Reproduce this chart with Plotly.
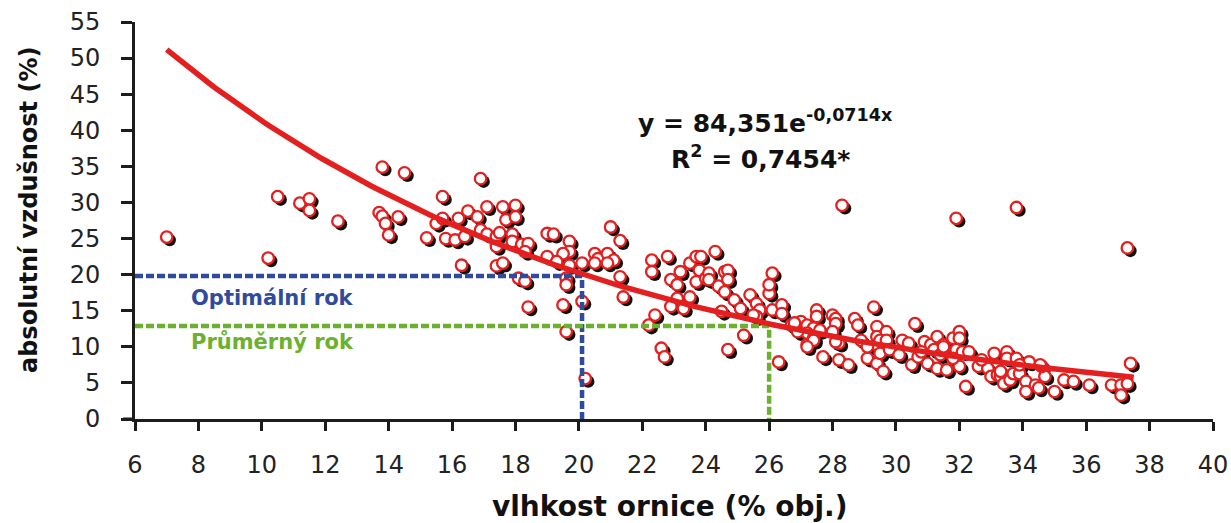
import numpy as np
import plotly.graph_objects as go

# --- data ---
moisture = [
    7.0, 10.2, 10.5, 11.2, 11.5, 11.5, 12.4, 13.8, 14.5, 13.7, 13.8, 13.9, 14.0, 14.3,
    15.2, 15.7, 15.5, 15.7, 15.8, 16.1, 16.2, 16.4, 16.3, 16.5, 16.8, 16.9, 16.9, 17.1,
    17.1, 17.4, 17.4, 17.4, 17.6, 17.6, 18.0, 17.7, 18.0, 17.5, 17.9, 17.9, 18.2, 18.4,
    18.3, 18.1, 18.3, 18.4, 19.0, 19.2, 19.7, 19.7, 19.5, 19.0, 19.3, 19.7, 20.1, 20.5,
    20.6, 20.5, 20.9, 21.0, 21.3, 21.1, 20.9, 21.3, 21.4, 19.6, 19.6, 19.5, 20.1, 19.6,
    20.2, 22.3, 22.3, 22.8, 22.9, 23.1, 23.2, 23.5, 23.7, 23.85, 23.8, 23.7, 24.0, 24.1,
    24.1, 24.3, 24.6, 24.7, 24.7, 24.4, 24.6, 24.9, 25.1, 23.1, 23.5, 22.9, 23.3, 22.4,
    22.2, 24.5, 22.6, 22.7, 24.7, 25.2, 25.4, 25.6, 25.7, 25.6, 25.5, 26.0, 26.0, 26.1,
    26.1, 26.4, 26.4, 26.3, 26.7, 27.0, 27.2, 27.5, 27.5, 27.4, 27.2, 27.2, 27.4, 26.9,
    27.6, 27.4, 27.2, 27.7, 28.0, 28.1, 28.1, 28.0, 28.2, 28.2, 28.5, 28.7, 28.8, 29.3,
    29.4, 29.4, 29.4, 29.1, 29.4, 29.6, 29.5, 29.7, 29.5, 29.7, 29.8, 30.2, 30.4, 30.6,
    30.5, 30.7, 30.9, 31.0, 31.1, 31.3, 31.5, 31.5, 31.3, 31.6, 31.8, 32.0, 32.0, 31.9,
    32.1, 32.3, 32.2, 32.0, 32.6, 32.9, 33.1, 33.5, 33.5, 33.8, 34.2, 33.0, 33.2, 33.3,
    33.4, 33.6, 33.7, 33.9, 34.1, 34.1, 34.4, 34.7, 34.6, 35.0, 35.3, 35.6, 36.1, 36.8,
    37.1, 37.3, 37.1, 37.4, 28.3, 31.9, 33.8, 37.3,
    28.9, 29.1, 30.1, 30.8, 31.2, 31.4, 31.8, 31.5, 26.8, 28.1, 34.55, 34.5, 33.3, 32.7,
    33.9,
]
aeration = [
    25.2, 22.3, 30.8, 29.9, 30.5, 28.9, 27.4, 34.9, 34.1, 28.6, 28.1, 27.1, 25.5, 28.0,
    25.1, 30.8, 27.1, 27.8, 25.0, 24.8, 27.8, 25.3, 21.3, 28.8, 28.0, 33.3, 26.2, 29.4,
    25.6, 21.2, 25.3, 23.9, 21.6, 29.4, 29.6, 27.6, 28.0, 25.8, 25.6, 24.6, 24.2, 24.3,
    23.2, 19.5, 19.1, 15.5, 25.7, 25.6, 24.6, 23.2, 22.9, 22.5, 21.8, 21.3, 21.6, 22.9,
    22.2, 21.6, 22.9, 26.6, 24.7, 22.0, 21.6, 19.7, 16.9, 19.5, 18.6, 15.8, 16.3, 12.1,
    5.6, 22.0, 20.4, 22.5, 19.3, 18.6, 20.4, 21.6, 22.5, 22.5, 20.6, 19.0, 19.5, 20.2,
    19.3, 23.2, 20.4, 20.6, 19.3, 18.4, 17.6, 16.5, 15.3, 16.7, 16.9, 15.6, 15.3, 14.4,
    13.0, 14.9, 9.8, 8.6, 9.6, 11.6, 17.2, 16.0, 15.1, 14.2, 14.4, 17.4, 18.6, 20.2,
    15.1, 15.8, 14.6, 7.9, 13.0, 13.5, 13.0, 15.1, 14.2, 12.6, 11.9, 10.3, 11.2, 12.1,
    12.3, 10.9, 10.0, 8.6, 14.4, 13.9, 13.2, 12.1, 10.5, 8.2, 7.5, 13.9, 13.0, 15.5,
    12.8, 11.4, 10.3, 8.4, 7.7, 6.6, 9.1, 12.1, 10.9, 10.9, 9.6, 10.9, 10.5, 13.2,
    7.5, 8.6, 10.7, 7.7, 10.3, 11.4, 10.3, 9.6, 7.0, 6.8, 11.2, 12.1, 11.2, 9.6,
    9.3, 9.3, 4.5, 7.3, 7.3, 7.0, 9.1, 9.3, 8.4, 8.4, 7.9, 5.9, 6.1, 5.9,
    4.9, 5.4, 6.3, 6.3, 5.2, 3.8, 4.7, 5.9, 7.3, 3.8, 5.4, 5.2, 4.7, 4.7,
    4.7, 4.9, 3.3, 7.7, 29.6, 27.8, 29.3, 23.7,
    10.9, 10.0, 8.9, 9.3, 9.6, 8.9, 8.4, 10.0, 13.3, 10.7, 7.5, 4.3, 6.6, 8.2,
    7.5,
]

# exponential trend shown on the chart: y = 84.351 * exp(-0.0714 x)
TREND_A = 84.351
TREND_B = -0.0714
TREND_X_RANGE = [7.0, 37.5]

# reference years
OPT_X, OPT_Y = 20.1, 19.8      # Optimální rok
AVG_X, AVG_Y = 26.0, 12.9      # Průměrný rok

X_TICKS = list(range(6, 41, 2))
Y_TICKS = list(range(0, 56, 5))

# --- figure ---
RED = "#E3201F"
BLUE = "#2F4C9C"
GREEN = "#6BB02F"
AXIS = "#1c1c1c"
FONT = "DejaVu Sans, Verdana, sans-serif"

W, H = 1231, 523
ML, MT, MR, MB = 135, 22, 15, 101
pw, ph = W - ML - MR, H - MT - MB
SH = 3  # shadow offset in px
dx, dy = SH / pw, SH / ph


def px(xp):
    return (xp - ML) / pw


def py(yp):
    return (MT + ph - yp) / ph


fig = go.Figure()

# shadows (base subplot, shifted right/down)
fig.add_trace(go.Scatter(
    x=moisture, y=aeration, mode="markers", xaxis="x", yaxis="y",
    marker=dict(size=12.5, color="#111111", line=dict(width=0)),
    hoverinfo="skip", showlegend=False, cliponaxis=False,
))

# points
fig.add_trace(go.Scatter(
    x=moisture, y=aeration, mode="markers", xaxis="x2", yaxis="y2",
    marker=dict(size=11.5, color="white", line=dict(width=2.3, color=RED)),
    showlegend=False, cliponaxis=False,
))

# reference lines
fig.add_trace(go.Scatter(
    x=[6, OPT_X, OPT_X], y=[OPT_Y, OPT_Y, 0], mode="lines", xaxis="x2", yaxis="y2",
    line=dict(color=BLUE, width=4.5, dash="8px,3px"), showlegend=False,
    hoverinfo="skip", cliponaxis=False,
))
fig.add_trace(go.Scatter(
    x=[6, AVG_X, AVG_X], y=[AVG_Y, AVG_Y, 0], mode="lines", xaxis="x2", yaxis="y2",
    line=dict(color=GREEN, width=4.5, dash="8px,3px"), showlegend=False,
    hoverinfo="skip", cliponaxis=False,
))

# trend line
tx = np.linspace(TREND_X_RANGE[0], TREND_X_RANGE[1], 200)
ty = TREND_A * np.exp(TREND_B * tx)
fig.add_trace(go.Scatter(
    x=tx, y=ty, mode="lines", xaxis="x2", yaxis="y2",
    line=dict(color=RED, width=5.5), showlegend=False, hoverinfo="skip",
))

common_x = dict(range=[6, 40], fixedrange=True, automargin=False)
common_y = dict(range=[0, 55], fixedrange=True, automargin=False)

fig.update_layout(
    width=W, height=H,
    margin=dict(l=ML, r=MR, t=MT, b=MB, autoexpand=False),
    paper_bgcolor="white", plot_bgcolor="rgba(0,0,0,0)",
    font=dict(family=FONT, color="#222222"),
    xaxis=dict(domain=[dx, 1], anchor="y", visible=False, **common_x),
    yaxis=dict(domain=[0, 1 - dy], anchor="x", visible=False, **common_y),
    xaxis2=dict(
        domain=[0, 1 - dx], anchor="y2", **common_x,
        tickvals=X_TICKS, ticktext=[str(v) for v in X_TICKS],
        showgrid=False, zeroline=False, showline=True, linewidth=3, linecolor=AXIS,
        ticks="outside", ticklen=9, tickwidth=3, tickcolor=AXIS,
        tickfont=dict(size=24, color="#222222"), ticklabelstandoff=13,
    ),
    yaxis2=dict(
        domain=[dy, 1], anchor="x2", **common_y,
        tickvals=Y_TICKS, ticktext=[str(v) for v in Y_TICKS],
        showgrid=False, zeroline=False, showline=True, linewidth=3, linecolor=AXIS,
        ticks="outside", ticklen=11, tickwidth=3, tickcolor=AXIS,
        tickfont=dict(size=24, color="#222222"), ticklabelstandoff=16,
    ),
    shapes=[dict(type="line", xref="paper", yref="y2", x0=-12 / pw, x1=0, y0=0, y1=0,
                 line=dict(color=AXIS, width=3))],
    annotations=[
        dict(text="<b>absolutní vzdušnost (%)</b>", xref="paper", yref="paper",
             x=px(29), y=py(210), xanchor="center", yanchor="middle",
             textangle=-90, showarrow=False, font=dict(size=24, color="#111111")),
        dict(text="<b>vlhkost ornice (% obj.)</b>", xref="paper", yref="paper",
             x=px(670), y=py(507), xanchor="center", yanchor="middle",
             showarrow=False, font=dict(size=28, color="#111111")),
        dict(text="<b>y = 84,351e<sup>-0,0714x</sup></b>", xref="paper", yref="paper",
             x=px(765), y=py(121), xanchor="center", yanchor="middle",
             showarrow=False, font=dict(size=25, color="#111111")),
        dict(text="<b>R<sup>2</sup> = 0,7454*</b>", xref="paper", yref="paper",
             x=px(760), y=py(157), xanchor="center", yanchor="middle",
             showarrow=False, font=dict(size=25, color="#111111")),
        dict(text="<b>Optimální rok</b>", xref="paper", yref="paper",
             x=px(189), y=py(298), xanchor="left", yanchor="middle",
             showarrow=False, font=dict(size=21, color=BLUE)),
        dict(text="<b>Průměrný rok</b>", xref="paper", yref="paper",
             x=px(189), y=py(342), xanchor="left", yanchor="middle",
             showarrow=False, font=dict(size=21, color=GREEN)),
    ],
)

fig.write_html(
    "out.html",
    config={"displayModeBar": False},
    post_script="document.body.style.margin='0';document.body.style.overflow='hidden';",
)
